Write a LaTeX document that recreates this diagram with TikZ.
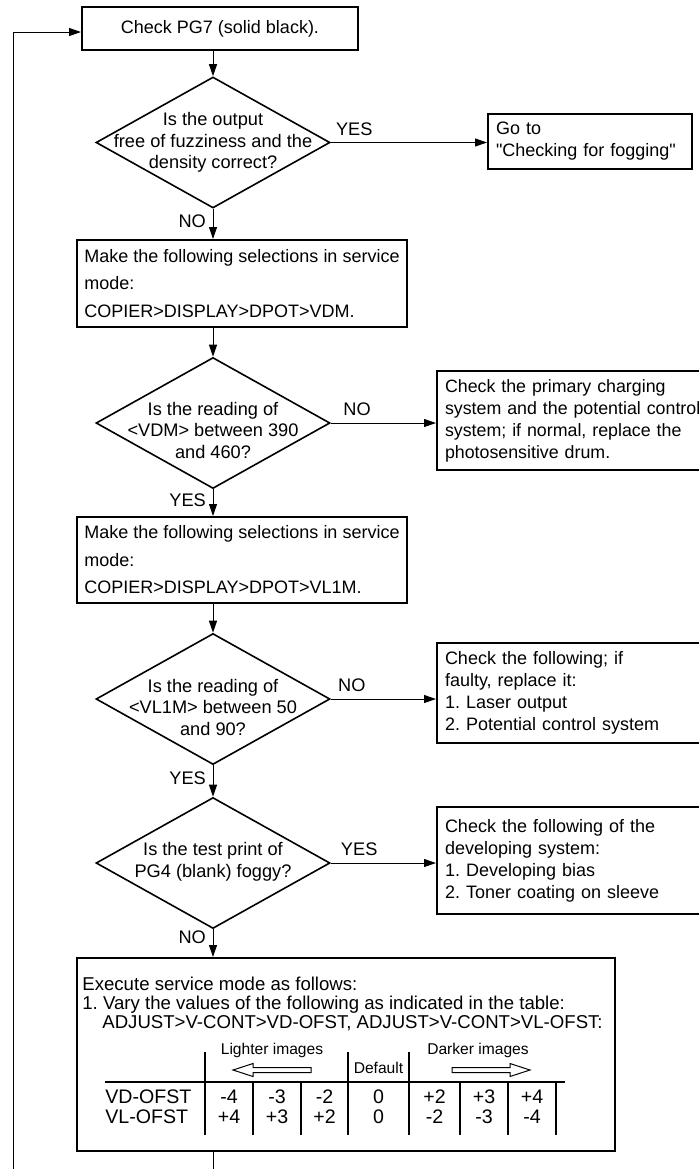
\documentclass[tikz,border=0pt]{standalone}
\usepackage{fontspec}
\setmainfont{Liberation Sans}[Ligatures=TeXOff]
\usetikzlibrary{shapes.geometric,arrows.meta,positioning}
\frenchspacing

\begin{document}
\begin{tikzpicture}[x=0.5pt, y=-0.5pt,
	box/.style={draw, line width=1pt, align=left, font=\fontsize{9}{11}\selectfont},
	decision/.style={draw, diamond, line width=0.8pt, inner sep=0pt, minimum width=117pt, minimum height=65.5pt},
	qtext/.style={align=center, inner sep=0pt, font=\fontsize{9.1}{10.75}\selectfont},
	conn/.style={line width=0.5pt, -{Triangle[length=6pt,width=4pt]}},
	lbl/.style={font=\fontsize{9.1}{11}\selectfont},
	tbl/.style={line width=0.6pt},
	num/.style={inner sep=0pt, font=\fontsize{9.8}{11}\selectfont}]

	\useasboundingbox (0,0) rectangle (699,1169);

	\node[box, align=center, minimum width=138pt, minimum height=21.5pt] (check) at (220,28.5) {Check PG7 (solid black).};

	\node[decision] (d1) at (213,142.5) {};
	\node[qtext] (d1t) at (d1) {Is the output\\free of fuzziness and the\\density correct?};
	\node[box, inner xsep=4pt, text width=94pt, minimum height=27.5pt] (goto) at (590,141.5) {Go to\\"Checking for fogging"};

	\node[box, minimum width=165pt, minimum height=43.5pt, font=\fontsize{9}{13.75}\selectfont] (sel1) at (242,283.5) {Make the following selections in service\\mode:\\COPIER>DISPLAY>DPOT>VDM.};

	\node[decision] (d2) at (213,423) {};
	\node[qtext] (d2t) at (213,430) {Is the reading of\\<VDM> between 390\\and 460?};
	\node[box, inner xsep=4pt, text width=133.5pt, minimum height=49.5pt, font=\fontsize{8.9}{11}\selectfont] (prim) at (578.5,420.5) {Check the primary charging\\system and the potential control\\system; if normal, replace the\\photosensitive drum.};

	\node[box, minimum width=165pt, minimum height=43pt, font=\fontsize{9}{13.75}\selectfont] (sel2) at (242,560) {Make the following selections in service\\mode:\\COPIER>DISPLAY>DPOT>VL1M.};

	\node[decision] (d3) at (213,699) {};
	\node[qtext] (d3t) at (213,707) {Is the reading of\\<VL1M> between 50\\and 90?};
	\node[box, inner xsep=4pt, text width=133.5pt, minimum height=50pt] (laser) at (578.5,693) {Check the following; if\\faulty, replace it:\\1. Laser output\\2. Potential control system};

	\node[decision] (d4) at (213,863) {};
	\node[qtext] (d4t) at (213,862) {Is the test print of\\PG4 (blank) foggy?};
	\node[box, inner xsep=4pt, text width=133.5pt, minimum height=53.5pt] (devel) at (578.5,860.5) {Check the following of the\\developing system:\\1. Developing bias\\2. Toner coating on sleeve};

	\node[box, minimum width=269pt, minimum height=96.5pt] (exec) at (346,1054.5) {};
	\node[anchor=north west, align=left, inner sep=0pt, font=\fontsize{9.3}{9.5}\selectfont] (exectxt) at (82,977) {Execute service mode as follows:\\1. Vary the values of the following as indicated in the table:\\\hspace*{10pt}ADJUST>V-CONT>VD-OFST, ADJUST>V-CONT>VL-OFST:};

	% table
	\foreach \x in {205,348,409} \draw[tbl] (\x,1052) -- (\x,1135);
	\foreach \x in {253,301,460,508,556} \draw[tbl] (\x,1082) -- (\x,1135);
	\draw[tbl] (105,1082) -- (565,1082);
	\node[font=\fontsize{7.8}{9}\selectfont, inner sep=0pt] (light) at (272,1050) {Lighter images};
	\node[font=\fontsize{7.8}{9}\selectfont, inner sep=0pt] (deflt) at (378.5,1068) {Default};
	\node[font=\fontsize{7.8}{9}\selectfont, inner sep=0pt] (dark) at (478,1050) {Darker images};
	\draw[line width=0.5pt] (233,1070) -- (253,1063.5) -- (253,1067.5) -- (311,1067.5) -- (311,1072.5) -- (253,1072.5) -- (253,1076.5) -- cycle;
	\draw[line width=0.5pt] (530,1070) -- (510,1063.5) -- (510,1067.5) -- (452,1067.5) -- (452,1072.5) -- (510,1072.5) -- (510,1076.5) -- cycle;
	\node[num, anchor=west] (vdlbl) at (105,1097) {VD-OFST};
	\node[num, anchor=west] (vllbl) at (105,1117) {VL-OFST};
	\foreach \x/\a/\b [count=\i] in {229/-4/+4, 277/-3/+3, 324.5/-2/+2, 378.5/0/0, 434.5/+2/-2, 484/+3/-3, 532/+4/-4} {
		\node[num] (vd\i) at (\x,1097) {\a};
		\node[num] (vl\i) at (\x,1117) {\b};
	}

	% connectors
	\coordinate (fbBot) at (13,1169);
	\coordinate (exitBot) at (213,1169);
	\draw[conn] (fbBot) |- ([yshift=-1.75pt]check.west);
	\draw[conn] (d1.north |- check.south) -- (d1.north);
	\draw[conn] (d1.east) -- node[lbl, above, pos=0.15] {YES} (goto.west |- d1.east);
	\draw[conn] (d1.south) -- node[lbl, left, pos=0.4] {NO} (d1.south |- sel1.north);
	\draw[conn] (d2.north |- sel1.south) -- (d2.north);
	\draw[conn] (d2.east) -- node[lbl, above, pos=0.25] {NO} (prim.west |- d2.east);
	\draw[conn] (d2.south) -- node[lbl, left, pos=0.4] {YES} (d2.south |- sel2.north);
	\draw[conn] (d3.north |- sel2.south) -- (d3.north);
	\draw[conn] (d3.east) -- node[lbl, above, pos=0.2] {NO} (laser.west |- d3.east);
	\draw[conn] (d3.south) -- node[lbl, left, pos=0.42] {YES} (d4.north);
	\draw[conn] (d4.east) -- node[lbl, above, pos=0.27] {YES} (devel.west |- d4.east);
	\draw[conn] (d4.south) -- node[lbl, left, pos=0.3] {NO} (d4.south |- exec.north);
	\draw[line width=0.5pt] (exitBot |- exec.south) -- (exitBot);
\end{tikzpicture}
\end{document}
